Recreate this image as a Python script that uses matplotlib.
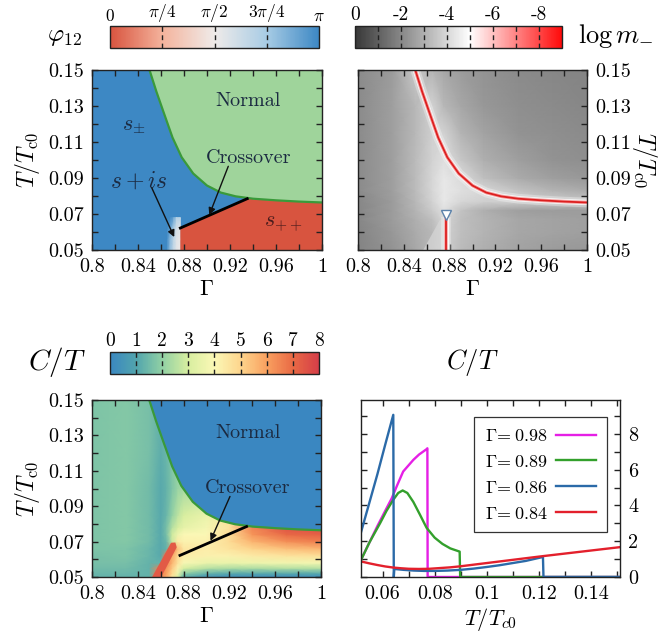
import numpy as np
import matplotlib
matplotlib.use("Agg")
import matplotlib.pyplot as plt
from matplotlib.colors import LinearSegmentedColormap, Normalize
from matplotlib.cm import ScalarMappable
from matplotlib.patches import Polygon

plt.rcParams.update({
    "font.family": "serif",
    "font.serif": ["cmr10", "DejaVu Serif"],
    "mathtext.fontset": "cm",
    "axes.unicode_minus": False,
    "axes.linewidth": 1.0,
})

# ---------------- data ----------------
# phase boundary T_c(Gamma) (green line)
bnd_gamma = [0.850, 0.856, 0.862, 0.870, 0.878, 0.888, 0.900, 0.912, 0.925, 0.940, 0.960, 0.980, 1.000]
bnd_T = [0.150, 0.138, 0.127, 0.1125, 0.1015, 0.0925, 0.0858, 0.0819, 0.0798, 0.0785, 0.0776, 0.0769, 0.0764]
# crossover line
cross_gamma = [0.8768, 0.935]
cross_T = [0.0622, 0.0785]

# s+is region, phi12 in units of pi
sis_gamma = [0.8655, 0.868, 0.871, 0.8735, 0.8768]
sis_T = [0.05, 0.056, 0.062, 0.068]
sis_phi = [[0.95, 0.80, 0.65, 0.55, 0.50],
           [0.97, 0.82, 0.67, 0.56, 0.52],
           [1.00, 0.90, 0.72, 0.60, 0.55],
           [1.00, 1.00, 0.90, 0.72, 0.68]]

# log m_ map
lm_gamma = [0.80, 0.83, 0.85, 0.865, 0.875, 0.89, 0.91, 0.94, 0.97, 1.00]
lm_T = [0.05, 0.06, 0.067, 0.072, 0.077, 0.083, 0.09, 0.10, 0.115, 0.13, 0.15]
lm_vals = [
    [-1.9, -2.3, -2.8, -3.3, -3.9, -3.3, -3.0, -2.7, -2.5, -2.4],
    [-1.9, -2.4, -2.9, -3.2, -3.9, -3.4, -3.1, -2.8, -2.7, -2.6],
    [-2.0, -2.5, -3.0, -3.4, -4.0, -3.4, -3.1, -2.8, -2.7, -2.6],
    [-2.0, -2.5, -3.1, -3.7, -4.2, -3.5, -3.0, -2.6, -2.5, -2.5],
    [-2.0, -2.5, -3.2, -3.9, -4.4, -4.0, -3.8, -3.8, -3.7, -3.6],
    [-2.1, -2.6, -3.3, -4.0, -4.4, -4.2, -4.0, -3.5, -3.1, -2.9],
    [-2.1, -2.6, -3.3, -4.0, -4.4, -4.1, -3.4, -2.9, -2.6, -2.4],
    [-2.1, -2.6, -3.3, -3.9, -4.2, -3.6, -3.0, -2.6, -2.3, -2.2],
    [-2.1, -2.6, -3.2, -3.8, -3.9, -3.1, -2.7, -2.3, -2.2, -2.1],
    [-2.1, -2.6, -3.2, -3.9, -3.2, -2.8, -2.4, -2.2, -2.1, -2.0],
    [-2.1, -2.5, -3.6, -3.1, -2.8, -2.5, -2.3, -2.1, -2.0, -1.9],
]
fo_gamma = [0.8765, 0.8765]
fo_T = [0.05, 0.0683]
tri_gamma = [0.8765]
tri_T = [0.0697]
wedge_gamma = [0.857, 0.8715, 0.8745, 0.8745]
wedge_T = [0.05, 0.0667, 0.0667, 0.05]

# C/T map
ct_gamma = [0.80, 0.83, 0.85, 0.86, 0.865, 0.87, 0.875, 0.88, 0.90, 0.92, 0.94, 0.97, 1.00]
ct_T = [0.05, 0.052, 0.055, 0.058, 0.062, 0.066, 0.07, 0.074, 0.078, 0.085, 0.10, 0.12, 0.15]
ct_vals = [
    [1.3, 1.3, 1.3, 6.5, 5.8, 4.6, 3.0, 1.2, 0.5, 0.3, 0.3, 0.3, 0.3],
    [1.4, 1.4, 1.3, 6.5, 6.0, 4.9, 3.5, 1.9, 1.3, 1.1, 1.1, 1.1, 1.1],
    [1.5, 1.5, 1.3, 6.5, 6.2, 5.2, 4.2, 3.0, 2.5, 2.4, 2.4, 2.5, 2.5],
    [1.6, 1.6, 1.3, 1.3, 6.5, 5.6, 4.6, 3.9, 3.5, 3.5, 3.6, 3.7, 3.8],
    [1.6, 1.7, 1.4, 1.1, 6.5, 5.9, 4.9, 4.3, 4.2, 4.2, 4.4, 4.6, 4.7],
    [1.7, 1.7, 1.4, 1.1, 1.3, 6.5, 5.4, 4.5, 4.3, 4.6, 5.0, 5.4, 5.6],
    [1.7, 1.8, 1.5, 1.1, 1.4, 2.8, 4.4, 4.2, 4.2, 4.8, 5.6, 6.3, 6.6],
    [1.7, 1.8, 1.5, 1.1, 1.6, 2.9, 3.6, 4.0, 4.0, 4.8, 6.2, 7.0, 7.2],
    [1.7, 1.8, 1.5, 1.1, 1.6, 2.5, 3.0, 3.4, 3.8, 4.6, 6.5, 7.5, 7.6],
    [1.7, 1.8, 1.5, 1.1, 1.4, 2.0, 2.6, 3.0, 3.5, 4.6, 6.5, 7.5, 7.6],
    [1.7, 1.8, 1.5, 1.1, 1.3, 1.7, 2.1, 2.3, 2.5, 4.6, 6.5, 7.5, 7.6],
    [1.7, 1.8, 1.6, 1.2, 1.4, 1.8, 2.0, 2.0, 2.0, 2.0, 2.0, 2.0, 2.0],
    [1.7, 1.8, 1.6, 1.3, 1.4, 1.6, 2.0, 2.0, 2.0, 2.0, 2.0, 2.0, 2.0],
]
streak_gamma = [0.8525, 0.8605, 0.8740, 0.8728, 0.8690]
streak_T = [0.05, 0.05, 0.0668, 0.0695, 0.0693]

# C/T curves vs T/Tc0
T_098 = [0.0517, 0.055, 0.058, 0.061, 0.0635, 0.0655, 0.0679, 0.070, 0.0718, 0.074, 0.0769, 0.0772, 0.0773, 0.1512]
C_098 = [0.97, 1.95, 2.85, 3.7, 4.4, 5.1, 5.9, 6.25, 6.55, 6.85, 7.15, 7.2, 0.0, 0.0]
T_089 = [0.0517, 0.055, 0.059, 0.0615, 0.0641, 0.066, 0.0677, 0.0695, 0.0718, 0.0743, 0.0769, 0.080, 0.083, 0.086, 0.0896, 0.0898, 0.1512]
C_089 = [0.95, 1.95, 3.0, 3.7, 4.32, 4.7, 4.84, 4.7, 4.2, 3.5, 2.75, 2.2, 1.85, 1.6, 1.42, 0.0, 0.0]
T_086 = [0.0517, 0.055, 0.058, 0.061, 0.0641, 0.0643, 0.0645, 0.068, 0.072, 0.076, 0.08, 0.085, 0.09, 0.095, 0.10, 0.105, 0.11, 0.115, 0.1216, 0.1218, 0.1512]
C_086 = [2.5, 4.2, 5.75, 7.4, 9.07, 0.0, 0.45, 0.4, 0.36, 0.34, 0.34, 0.36, 0.4, 0.47, 0.56, 0.66, 0.78, 0.9, 1.12, 0.0, 0.0]
T_084 = [0.0517, 0.055, 0.058, 0.061, 0.064, 0.067, 0.070, 0.074, 0.078, 0.082, 0.086, 0.09, 0.10, 0.11, 0.12, 0.13, 0.14, 0.1512]
C_084 = [0.87, 0.76, 0.67, 0.59, 0.53, 0.49, 0.46, 0.45, 0.46, 0.5, 0.54, 0.6, 0.78, 0.96, 1.14, 1.31, 1.48, 1.67]
curve_labels = [r'$\Gamma\!=0.98$', r'$\Gamma\!=0.89$', r'$\Gamma\!=0.86$', r'$\Gamma\!=0.84$']

# ---------------- colormaps ----------------
phi_cmap = LinearSegmentedColormap.from_list('phi', [
    (0.0, '#d8543f'), (0.25, '#f4b39c'), (0.5, '#efebe9'), (0.75, '#a8cce5'), (1.0, '#3d88c4')])
lm_cmap = LinearSegmentedColormap.from_list('lm', [
    (0.0, '#ff0a0a'), (4/9, '#ffffff'), (1.0, '#383838')])
ct_cmap = LinearSegmentedColormap.from_list('ct', [
    (0.0, '#3a87c1'), (0.125, '#52a5ad'), (0.25, '#92d1a4'), (0.375, '#d8eea0'),
    (0.5, '#fbf8b6'), (0.625, '#fdd58d'), (0.75, '#f9a160'), (0.875, '#e96a45'), (1.0, '#d53e48')])

TXT = '#1b2a41'
W, H = 660, 638
fig = plt.figure(figsize=(6.6, 6.38), dpi=100)


def axrect(x0, y0, x1, y1):
    return [x0 / W, 1 - y1 / H, (x1 - x0) / W, (y1 - y0) / H]


ax_tl = fig.add_axes(axrect(92, 70, 322, 250))
ax_tr = fig.add_axes(axrect(358, 70, 587, 250))
ax_bl = fig.add_axes(axrect(92, 400, 321, 577))
ax_br = fig.add_axes(axrect(361, 400, 620, 577))
cax_tl = fig.add_axes(axrect(110, 26, 319, 48))
cax_tr = fig.add_axes(axrect(355, 26, 562, 48))
cax_bl = fig.add_axes(axrect(110, 352, 319, 374))

gx = np.round(np.arange(0.80, 1.0001, 0.02), 2)
gx_lab = ['0.8', '', '0.84', '', '0.88', '', '0.92', '', '0.96', '', '1']
ty = np.round(np.arange(0.05, 0.1501, 0.01), 2)
ty_lab = ['0.05', '', '0.07', '', '0.09', '', '0.11', '', '0.13', '', '0.15']
TICK_FS = 14.5


def style_map(ax, right=False):
    ax.set_xlim(0.8, 1.0)
    ax.set_ylim(0.05, 0.15)
    ax.set_xticks(gx)
    ax.set_xticklabels(gx_lab)
    ax.set_yticks(ty)
    ax.set_yticklabels(ty_lab)
    ax.tick_params(which='both', direction='in', top=True, right=True, left=True, bottom=True,
                   length=4, width=1, color='#222', labelsize=TICK_FS, pad=6,
                   labelleft=not right, labelright=right)
    ax.set_xlabel(r'$\Gamma$', fontsize=16, labelpad=2)
    if right:
        ax.yaxis.set_label_position('right')
        ax.set_ylabel(r'$T/T_{\rm c0}$', fontsize=17, rotation=270, labelpad=20)
    else:
        ax.set_ylabel(r'$T/T_{\rm c0}$', fontsize=17, labelpad=4)
    for s in ax.spines.values():
        s.set_color('#222')
        s.set_zorder(10)


def make_cbar(cax, cmap, vmin, vmax, ticks, labels, dashed, invert=False, fs=14):
    sm = ScalarMappable(norm=Normalize(vmin, vmax), cmap=cmap)
    cb = fig.colorbar(sm, cax=cax, orientation='horizontal')
    cb.outline.set_linewidth(1.0)
    cb.outline.set_edgecolor('#222')
    cb.set_ticks(ticks, labels=labels)
    cax.xaxis.set_ticks_position('top')
    cax.tick_params(axis='x', length=0, pad=1.5, labelsize=fs)
    for d in dashed:
        cax.axvline(d, color='#222', lw=1, ls=(0, (3.5, 2.5)))
    if invert:
        cax.invert_xaxis()
    return cb


bnd_g = np.array(bnd_gamma)
bnd_t = np.array(bnd_T)

# ---------- top-left: phi12 phase diagram ----------
ax = ax_tl
ax.fill_between([0.8, 1.0], [0.05, 0.05], [0.15, 0.15], color=phi_cmap(1.0), lw=0)
SG, ST = np.meshgrid(sis_gamma, sis_T)
ax.pcolormesh(SG, ST, np.array(sis_phi) * np.pi, cmap=phi_cmap, vmin=0, vmax=np.pi, shading='gouraud')
sel = bnd_g > cross_gamma[1]
red_pts = ([(cross_gamma[0], 0.05), (cross_gamma[0], cross_T[0]), (cross_gamma[1], cross_T[1])]
           + list(zip(bnd_g[sel], bnd_t[sel])) + [(1.0, 0.05)])
ax.add_patch(Polygon(red_pts, closed=True, color=phi_cmap(0.0), lw=0))
ax.fill_between(bnd_g, bnd_t, 0.15, color='#9fd49b', lw=0)
ax.plot(bnd_g, bnd_t, color='#3a9a3a', lw=1.6)
ax.plot(cross_gamma, cross_T, color='k', lw=2)
ax.text(0.936, 0.1325, 'Normal', fontsize=14.5, color=TXT, ha='center', va='center')
ax.text(0.936, 0.1012, 'Crossover', fontsize=14.5, color=TXT, ha='center', va='center')
ax.text(0.836, 0.1185, r'$s_{\pm}$', fontsize=16, color=TXT, ha='center', va='center')
ax.text(0.8405, 0.0878, r'$s+is$', fontsize=17, color=TXT, ha='center', va='center')
ax.text(0.966, 0.0637, r'$s_{++}$', fontsize=16, color='#4a1c1c', ha='center', va='center')
arr = dict(arrowstyle='-|>', color='#111', lw=1, mutation_scale=10, shrinkA=0, shrinkB=0)
ax.annotate('', xy=(0.8715, 0.0572), xytext=(0.852, 0.0845), arrowprops=arr)
ax.annotate('', xy=(0.902, 0.0695), xytext=(0.9185, 0.0965), arrowprops=arr)
style_map(ax)

make_cbar(cax_tl, phi_cmap, 0, np.pi, [0, np.pi / 4, np.pi / 2, 3 * np.pi / 4, np.pi],
          ['0', r'$\pi/4$', r'$\pi/2$', r'$3\pi/4$', r'$\pi$'],
          [np.pi / 4, np.pi / 2, 3 * np.pi / 4], fs=12.5)
fig.text(64 / W, 1 - 37 / H, r'$\varphi_{12}$', fontsize=18, ha='center', va='center')

# ---------- top-right: log m_ ----------
ax = ax_tr
LG, LT = np.meshgrid(lm_gamma, lm_T)
ax.pcolormesh(LG, LT, np.array(lm_vals), cmap=lm_cmap, vmin=-9, vmax=0, shading='gouraud')
ax.add_patch(Polygon(list(zip(wedge_gamma, wedge_T)), closed=True, color=lm_cmap(Normalize(-9, 0)(-4.0)),
                     lw=0, alpha=0.7))
for lw_, c_, a_ in [(7, 'white', 0.3), (3.8, 'white', 0.85), (2.6, '#f5a5a5', 1.0), (1.3, '#dd1f1f', 1.0)]:
    ax.plot(bnd_g, bnd_t, color=c_, lw=lw_, alpha=a_, solid_capstyle='butt')
    ax.plot(fo_gamma, fo_T, color=c_, lw=lw_, alpha=a_, solid_capstyle='butt')
ax.plot(tri_gamma, tri_T, marker='v', ms=7, mfc='white', mec='#5b82ab', mew=1.0, ls='none')
style_map(ax, right=True)

make_cbar(cax_tr, lm_cmap, -9, 0, [0, -2, -4, -6, -8], ['0', '-2', '-4', '-6', '-8'],
          [-1, -2, -3, -4, -5, -6, -7, -8], invert=True)
fig.text(616 / W, 1 - 36 / H, r'$\log m_{-}$', fontsize=19, ha='center', va='center')

# ---------- bottom-left: C/T map ----------
ax = ax_bl
CG, CTm = np.meshgrid(ct_gamma, ct_T)
ax.pcolormesh(CG, CTm, np.array(ct_vals), cmap=ct_cmap, vmin=0, vmax=8, shading='gouraud')
ax.add_patch(Polygon(list(zip(streak_gamma, streak_T)), closed=True, color=ct_cmap(0.92), lw=0))
ax.fill_between(bnd_g, bnd_t, 0.15, color=ct_cmap(0.0), lw=0)
ax.plot(bnd_g, bnd_t, color='#3a9a3a', lw=1.6)
ax.plot(cross_gamma, cross_T, color='k', lw=2)
ax.text(0.936, 0.1315, 'Normal', fontsize=14.5, color=TXT, ha='center', va='center')
ax.text(0.936, 0.1005, 'Crossover', fontsize=14.5, color=TXT, ha='center', va='center')
ax.annotate('', xy=(0.9035, 0.0705), xytext=(0.9205, 0.0955), arrowprops=arr)
style_map(ax)

make_cbar(cax_bl, ct_cmap, 0, 8, list(range(9)), [str(i) for i in range(9)], list(range(1, 8)))
fig.text(57 / W, 1 - 362 / H, r'$C/T$', fontsize=21, ha='center', va='center')

# ---------- bottom-right: C/T curves ----------
ax = ax_br
cols = ['#e51fe5', '#33a02c', '#2b6aa8', '#e3202c']
for (tt, cc), col, lab in zip([(T_098, C_098), (T_089, C_089), (T_086, C_086), (T_084, C_084)], cols, curve_labels):
    ax.plot(tt, cc, color=col, lw=1.7, label=lab)
ax.set_xlim(0.0517, 0.1512)
ax.set_ylim(0, 9.9)
xt = np.round(np.arange(0.06, 0.1501, 0.01), 2)
ax.set_xticks(xt)
ax.set_xticklabels(['0.06', '', '0.08', '', '0.1', '', '0.12', '', '0.14', ''])
ax.set_yticks(range(10))
ax.set_yticklabels(['0', '', '2', '', '4', '', '6', '', '8', ''])
ax.tick_params(which='both', direction='in', top=True, right=True, left=True, bottom=True,
               length=4, width=1, color='#222', labelsize=TICK_FS, pad=6, labelleft=False, labelright=True)
ax.set_xlabel(r'$T/T_{c0}$', fontsize=16, labelpad=2)
leg = ax.legend(loc='upper right', bbox_to_anchor=(0.95, 0.904), borderaxespad=0, markerfirst=False,
                fancybox=False, framealpha=1, edgecolor='#333', fontsize=13, handlelength=2.2,
                handletextpad=0.5, labelspacing=0.55, borderpad=0.6)
leg.get_frame().set_linewidth(0.9)
for s in ax.spines.values():
    s.set_color('#222')
fig.text(472 / W, 1 - 363 / H, r'$C/T$', fontsize=19, ha='center', va='center')

fig.savefig('out.png', dpi=100)
